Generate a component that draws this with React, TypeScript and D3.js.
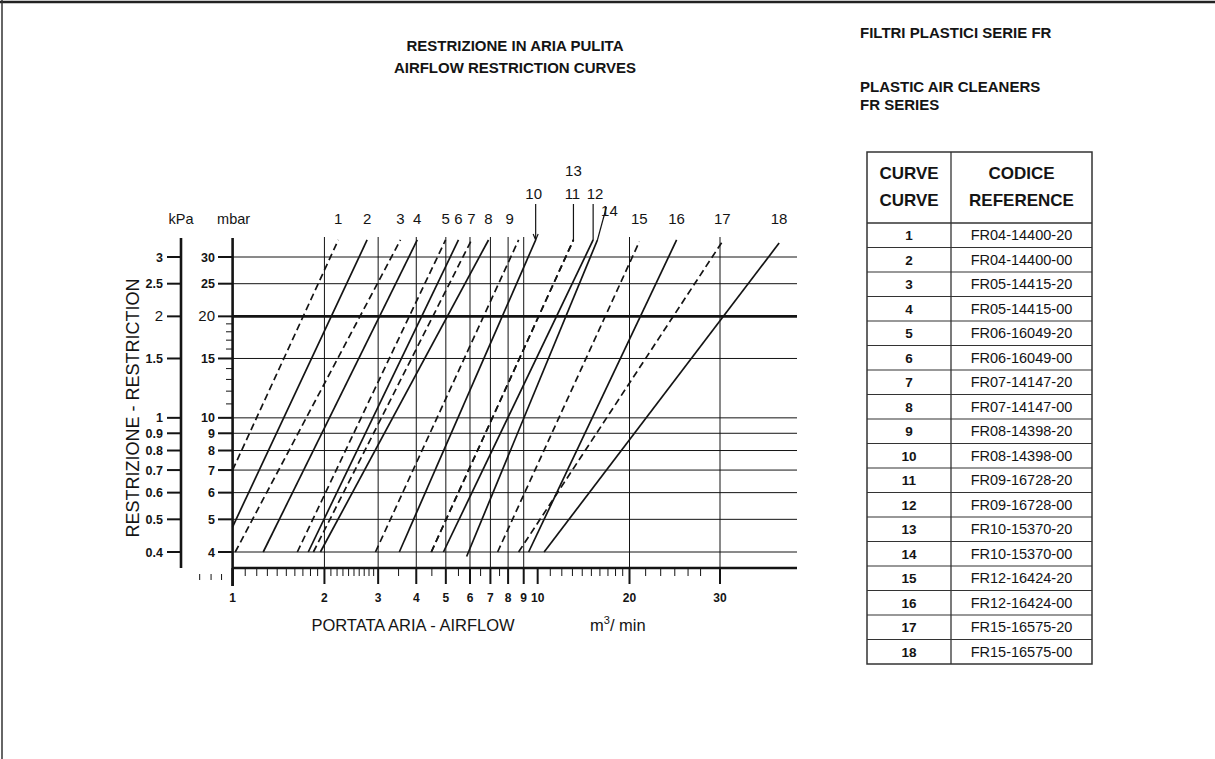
import React from 'react';
import * as d3 from 'd3';

// ---------- data ----------
const curveIds = [1, 2, 3, 4, 5, 6, 7, 8, 9, 10, 11, 12, 13, 14, 15, 16, 17, 18];
// airflow (m3/min) and restriction (mbar) at the two ends of each curve
const startFlow = [1, 1, 1.02, 1.26, 1.63, 1.77, 1.84, 1.94, 2.94, 3.52, 4.48, 4.91, 4.48, 5.85, 7.39, 9.34, 8.66, 10.5];
const startRestr = [7.0, 4.75, 4, 4, 4, 4, 4, 4, 4, 4, 4, 4, 4, 3.88, 4, 4, 4, 4];
const endFlow = [2.22, 2.76, 3.55, 4.03, 4.99, 5.5, 6.07, 6.9, 8.66, 9.85, 13.1, 15.2, 13.1, 15.7, 20.9, 24.7, 30.3, 39.1];
const endRestr = [33.7, 33.7, 33.7, 33.7, 33.7, 33.7, 33.7, 33.7, 33.7, 33.7, 33.7, 33.7, 33.7, 33.7, 33.3, 33.7, 33.3, 33.0];
const codes = [
  'FR04-14400-20', 'FR04-14400-00', 'FR05-14415-20', 'FR05-14415-00', 'FR06-16049-20', 'FR06-16049-00',
  'FR07-14147-20', 'FR07-14147-00', 'FR08-14398-20', 'FR08-14398-00', 'FR09-16728-20', 'FR09-16728-00',
  'FR10-15370-20', 'FR10-15370-00', 'FR12-16424-20', 'FR12-16424-00', 'FR15-16575-20', 'FR15-16575-00',
];

const flowTickLabels = [1, 2, 3, 4, 5, 6, 7, 8, 9, 10, 20, 30];
const flowGrid = [2, 3, 4, 5, 6, 7, 8, 9, 20, 30];
const flowMinor = [1.1, 1.2, 1.3, 1.4, 1.5, 1.6, 1.7, 1.8, 1.9, 2.1, 2.2, 2.3, 2.4, 2.5, 2.6, 2.7, 2.8, 2.9,
  3.5, 4.5, 5.5, 6.5, 7.5, 11, 12, 13, 14, 15, 16, 17, 18, 19, 21.5, 23, 24.5, 26, 27.5];
const flowOutside = [0.78, 0.85, 0.92];
const mbarTicks = [4, 5, 6, 7, 8, 9, 10, 15, 20, 25, 30];
const mbarMinor = [11, 12, 13, 14, 16, 17, 18, 19];
const kpaTicks = [0.4, 0.5, 0.6, 0.7, 0.8, 0.9, 1, 1.5, 2, 2.5, 3];

// ---------- layout ----------
const W = 1215, H = 759;
const X0 = 232.6, XR = 797;
const YTOP = 237, YAXIS = 568;
const NARROW = "'Liberation Sans Narrow', 'Arial Narrow', 'Liberation Sans', Arial, sans-serif";
const SANS = "'Liberation Sans', Arial, Helvetica, sans-serif";
const INK = '#141414';

const labelLayout: Record<number, { dx: number; y: number }> = {
  9: { dx: -9, y: 224 }, 10: { dx: -2, y: 199 }, 11: { dx: -1, y: 199 }, 12: { dx: 2, y: 199 },
  13: { dx: 0, y: 176 }, 14: { dx: 12, y: 216 },
};

export default function App() {
  const x = d3.scaleLog().domain([1, 20, 30]).range([X0, 629.5, 720]);
  const y = d3.scaleLog().domain([4, 30]).range([552, 257]);

  const kX = 181; // kPa axis line

  const tableX0 = 867, tableX1 = 1092, tableDiv = 951, tableTop = 152, headBot = 223, rowH = 24.5;

  return (
    <svg width={W} height={H} style={{ position: 'absolute', left: 0, top: 0, background: '#fff' }}>
      <rect x={0} y={0} width={W} height={H} fill="#fff" />
      {/* page frame */}
      <line x1={0} y1={2} x2={W} y2={2} stroke="#222" strokeWidth={2.5} />
      <line x1={2} y1={0} x2={2} y2={H} stroke="#333" strokeWidth={1.5} />

      {/* titles */}
      <g fontFamily={NARROW} fontWeight="bold" fontSize={15} fill={INK}>
        <text x={515} y={51} textAnchor="middle">RESTRIZIONE IN ARIA PULITA</text>
        <text x={515} y={73} textAnchor="middle">AIRFLOW RESTRICTION CURVES</text>
        <text x={860} y={38}>FILTRI PLASTICI SERIE FR</text>
        <text x={860} y={92}>PLASTIC AIR CLEANERS</text>
        <text x={860} y={110}>FR SERIES</text>
      </g>

      {/* horizontal gridlines */}
      {mbarTicks.map((v) => (
        <line key={'h' + v} x1={X0} x2={XR} y1={y(v)} y2={y(v)} stroke={INK}
          strokeWidth={v === 20 ? 2.6 : 1} />
      ))}
      {/* vertical gridlines */}
      {flowGrid.map((v) => (
        <line key={'v' + v} x1={x(v)} x2={x(v)} y1={YTOP} y2={YAXIS} stroke={INK} strokeWidth={1} />
      ))}

      {/* x axis */}
      <line x1={X0} x2={XR} y1={YAXIS} y2={YAXIS} stroke={INK} strokeWidth={2.6} />
      {flowTickLabels.map((v) => (
        <line key={'xt' + v} x1={x(v)} x2={x(v)} y1={YAXIS} y2={v === 1 ? 586 : 584} stroke={INK} strokeWidth={v === 1 ? 2.5 : 2} />
      ))}
      {flowMinor.map((v) => (
        <line key={'xm' + v} x1={x(v)} x2={x(v)} y1={YAXIS} y2={576} stroke={INK} strokeWidth={1} />
      ))}
      {flowOutside.map((v) => (
        <line key={'xo' + v} x1={x(v)} x2={x(v)} y1={574} y2={580} stroke={INK} strokeWidth={1} />
      ))}
      <g fontFamily={NARROW} fontWeight="bold" fontSize={12} fill={INK} textAnchor="middle">
        {flowTickLabels.map((v) => (
          <text key={'xl' + v} x={x(v)} y={602}>{v}</text>
        ))}
      </g>
      <text x={413} y={631} textAnchor="middle" fontFamily={SANS} fontSize={16.5} fill={INK}>PORTATA ARIA - AIRFLOW</text>
      <text x={590} y={631} fontFamily={SANS} fontSize={16.5} fill={INK}>
        m<tspan dy={-7} fontSize={11}>3</tspan><tspan dy={7}>/ min</tspan>
      </text>

      {/* mbar axis */}
      <line x1={X0} x2={X0} y1={YTOP + 1} y2={586} stroke={INK} strokeWidth={2.6} />
      {mbarTicks.map((v) => (
        <line key={'yt' + v} x1={218} x2={X0} y1={y(v)} y2={y(v)} stroke={INK} strokeWidth={2} />
      ))}
      {mbarMinor.map((v) => (
        <line key={'ym' + v} x1={226} x2={X0} y1={y(v)} y2={y(v)} stroke={INK} strokeWidth={1} />
      ))}
      <g fill={INK} textAnchor="end">
        {mbarTicks.map((v) => (
          <text key={'yl' + v} x={215} y={y(v) + (v === 20 ? 5 : 4.5)}
            fontFamily={v === 20 ? SANS : NARROW} fontWeight={v === 20 ? 'normal' : 'bold'}
            fontSize={v === 20 ? 15 : 12.5}>{v}</text>
        ))}
      </g>

      {/* kPa axis */}
      <line x1={kX} x2={kX} y1={YTOP + 1} y2={YAXIS} stroke={INK} strokeWidth={2.6} />
      {kpaTicks.map((v) => (
        <line key={'kt' + v} x1={167} x2={kX} y1={y(v * 10)} y2={y(v * 10)} stroke={INK} strokeWidth={2} />
      ))}
      <g fill={INK} textAnchor="end">
        {kpaTicks.map((v) => (
          <text key={'kl' + v} x={163} y={y(v * 10) + (v === 2 ? 5 : 4.5)}
            fontFamily={v === 2 ? SANS : NARROW} fontWeight={v === 2 ? 'normal' : 'bold'}
            fontSize={v === 2 ? 15 : 12.5}>{v}</text>
        ))}
      </g>
      <text x={kX} y={224} textAnchor="middle" fontFamily={SANS} fontSize={14.5} fill={INK}>kPa</text>
      <text x={X0 + 1} y={224} textAnchor="middle" fontFamily={SANS} fontSize={14.5} fill={INK}>mbar</text>
      <text transform="translate(139,408) rotate(-90)" textAnchor="middle" fontFamily={SANS} fontSize={18} fill={INK}>
        RESTRIZIONE - RESTRICTION
      </text>

      {/* curves */}
      {curveIds.map((id, i) => (
        <line key={'c' + id}
          x1={x(startFlow[i])} y1={y(startRestr[i])} x2={x(endFlow[i])} y2={y(endRestr[i])}
          stroke={INK} strokeWidth={1.7} strokeDasharray={id % 2 === 1 ? '7,4' : undefined} />
      ))}

      {/* curve labels */}
      <g fontFamily={SANS} fontSize={15} fill={INK} textAnchor="middle">
        {curveIds.map((id, i) => {
          const l = labelLayout[id] || { dx: 0, y: 224 };
          return <text key={'l' + id} x={x(endFlow[i]) + l.dx} y={l.y}>{id}</text>;
        })}
      </g>
      {/* label pointers */}
      {[10, 11, 12].map((id) => {
        const xe = x(endFlow[id - 1]);
        return <line key={'p' + id} x1={xe} x2={xe} y1={204} y2={y(endRestr[id - 1])} stroke={INK} strokeWidth={1.2} />;
      })}
      {(() => {
        const xe = x(endFlow[9]);
        const ye = y(endRestr[9]);
        return <path d={`M${xe - 2.5},${ye - 6} L${xe},${ye} L${xe + 2.5},${ye - 6}`} fill="none" stroke={INK} strokeWidth={1.2} />;
      })()}
      {(() => {
        const xe = x(endFlow[13]);
        return <line x1={xe + 9} y1={207} x2={xe} y2={y(endRestr[13])} stroke={INK} strokeWidth={1.2} />;
      })()}

      {/* table */}
      <g stroke="#333" fill="none">
        <rect x={tableX0} y={tableTop} width={tableX1 - tableX0} height={headBot + rowH * codes.length - tableTop} strokeWidth={1.5} />
        <line x1={tableDiv} x2={tableDiv} y1={tableTop} y2={headBot + rowH * codes.length} strokeWidth={1.3} />
        <line x1={tableX0} x2={tableX1} y1={headBot} y2={headBot} strokeWidth={1.5} />
        {codes.map((c, i) => (
          i > 0 ? <line key={'r' + i} x1={tableX0} x2={tableX1} y1={headBot + rowH * i} y2={headBot + rowH * i} strokeWidth={1.2} /> : null
        ))}
      </g>
      <g fontFamily={SANS} fontWeight="bold" fontSize={17} fill={INK} textAnchor="middle">
        <text x={(tableX0 + tableDiv) / 2} y={179}>CURVE</text>
        <text x={(tableX0 + tableDiv) / 2} y={206}>CURVE</text>
        <text x={(tableDiv + tableX1) / 2} y={179}>CODICE</text>
        <text x={(tableDiv + tableX1) / 2} y={206}>REFERENCE</text>
      </g>
      <g fill={INK} textAnchor="middle">
        {codes.map((c, i) => (
          <g key={'t' + i}>
            <text x={(tableX0 + tableDiv) / 2} y={headBot + rowH * i + 17} fontFamily={SANS} fontWeight="bold" fontSize={13.5}>{curveIds[i]}</text>
            <text x={(tableDiv + tableX1) / 2} y={headBot + rowH * i + 17} fontFamily={NARROW} fontSize={14.5}>{c}</text>
          </g>
        ))}
      </g>
    </svg>
  );
}
